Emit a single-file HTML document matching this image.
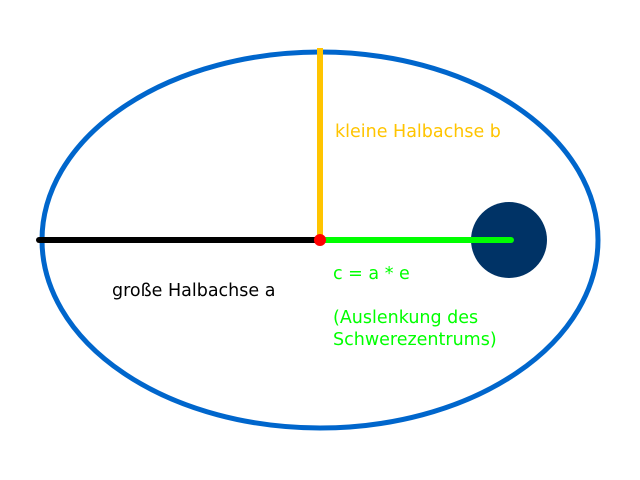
<!DOCTYPE html>
<html><head><style>body{margin:0;background:#fff}</style></head><body>
<svg width="640" height="480" xmlns="http://www.w3.org/2000/svg" style="display:block">
<rect width="640" height="480" fill="#fff"/>
<ellipse cx="320" cy="240" rx="278" ry="188" fill="none" stroke="#0066cc" stroke-width="5"/>
<circle cx="509" cy="240" r="38" fill="#003366"/>
<line x1="320" y1="48" x2="320" y2="240" stroke="#ffc400" stroke-width="6"/>
<line x1="39" y1="240" x2="320" y2="240" stroke="#000" stroke-width="6" stroke-linecap="round"/>
<line x1="320" y1="240" x2="511" y2="240" stroke="#00ff00" stroke-width="6" stroke-linecap="round"/>
<circle cx="320" cy="240" r="6" fill="#ff0000"/>
<g font-family="DejaVu Sans, Liberation Sans, sans-serif" font-size="17.5">
<text x="335" y="137" fill="#ffc400">kleine Halbachse b</text>
<text x="112" y="296" fill="#000">große Halbachse a</text>
<text x="333" y="279" fill="#00ff00">c = a * e</text>
<text x="333" y="323" fill="#00ff00">(Auslenkung des</text>
<text x="333" y="345" fill="#00ff00">Schwerezentrums)</text>
</g>
</svg>
</body></html>
